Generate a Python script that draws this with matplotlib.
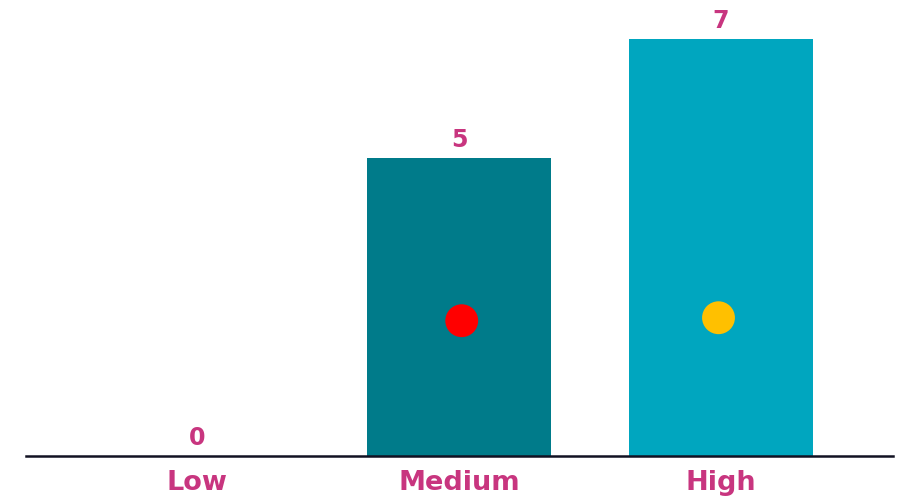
import matplotlib.pyplot as plt

categories = ['Low', 'Medium', 'High']
values = [0, 5, 7]
bar_colors = ['#007B8A', '#007B8A', '#00A6BF']
dot_categories = ['Medium', 'High']
dot_x_shift = [0.01, -0.01]
dot_values = [2.27, 2.32]
dot_colors = ['#FF0000', '#FFC000']

label_color = '#C8357F'

plt.rcParams['font.family'] = ['DejaVu Sans']

fig = plt.figure(figsize=(9.07, 4.99), dpi=100)
ax = fig.add_axes([26 / 907, 1 - 456 / 499, (893 - 26) / 907, 456 / 499])

x = range(len(categories))
ax.bar(x, values, width=0.7, color=bar_colors, zorder=2)

dot_x = [categories.index(c) + s for c, s in zip(dot_categories, dot_x_shift)]
ax.scatter(dot_x, dot_values, s=560, c=dot_colors, zorder=3, linewidths=0)

for xi, v in zip(x, values):
    ax.annotate(str(v), (xi, v), xytext=(0, 4), textcoords='offset points',
                ha='center', va='bottom', fontsize=17, fontweight='bold',
                color=label_color)

ax.set_xlim(-0.653, 2.656)
ax.set_ylim(0, 456 / 59.6)
ax.set_xticks(list(x))
ax.set_xticklabels(categories, fontsize=19.5, fontweight='bold', color=label_color)
ax.tick_params(axis='x', length=0, pad=10)
ax.set_yticks([])
for side in ['top', 'right', 'left']:
    ax.spines[side].set_visible(False)
ax.spines['bottom'].set_linewidth(1.8)
ax.spines['bottom'].set_color('#111122')
ax.spines['bottom'].set_zorder(4)

fig.savefig('out.png', dpi=100)
